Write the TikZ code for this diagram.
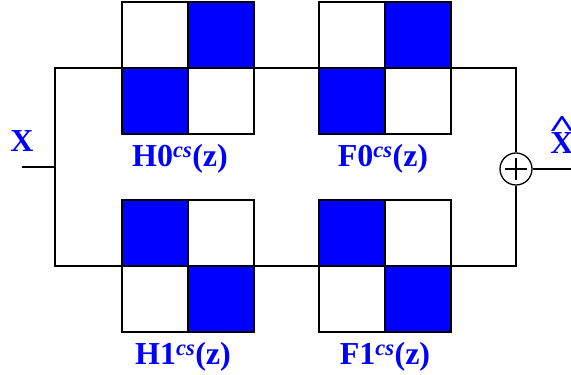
\documentclass[tikz,border=0pt]{standalone}
\usepackage{fontspec}
\setmainfont{Liberation Serif}
\usetikzlibrary{positioning}

\begin{document}
\begin{tikzpicture}[x=1pt, y=1pt,
        filt/.style={
            rectangle,
            minimum size=132pt,
            inner sep=0pt,
            outer sep=0pt,
            draw=black,
            line width=1.3pt
        },
        sig/.style={
            draw=black,
            line width=1.3pt
        },
        lbl/.style={
            text=blue,
            inner sep=0pt,
            font=\fontsize{32}{32}\selectfont\bfseries
        },
        sum/.style={
            circle,
            minimum size=32pt,
            inner sep=0pt,
            draw=black,
            line width=1.3pt
        }
    ]
        \useasboundingbox (0,0) rectangle (571,375);

        \node (H0) [filt] at (188,307) {};
        \node (F0) [filt, right=65pt of H0] {};
        \node (H1) [filt, below=66pt of H0] {};
        \node (F1) [filt, right=65pt of H1] {};

        % blue cells
        \foreach \b in {H0,F0} {
            \fill[blue] (\b.north east) rectangle (\b.center);
            \fill[blue] (\b.south west) rectangle (\b.center);
        }
        \foreach \b in {H1,F1} {
            \fill[blue] (\b.north west) rectangle (\b.center);
            \fill[blue] (\b.south east) rectangle (\b.center);
        }
        \foreach \b in {H0,F0,H1,F1} {
            \draw[sig] (\b.north west) rectangle (\b.south east);
            \draw[sig] (\b.north) -- (\b.south);
        }

        \coordinate (in) at (22,208);
        \coordinate (split) at (55,208);
        \node (add) [sum] at (516,206) {};
        \coordinate (out) at (571,206);

        \draw[sig] (in) -- (split);
        \draw[sig] (split) |- (H0.west) -- (F0.east) -| (add.north);
        \draw[sig] (split) |- (H1.west) -- (F1.east) -| (add.south);
        \draw[sig] (add.east) -- (out);
        \draw[sig] ([xshift=-11pt]add.center) -- ([xshift=11pt]add.center);
        \draw[sig] ([yshift=-11pt]add.center) -- ([yshift=11pt]add.center);

        \node (H0lbl) [lbl, below=10pt of H0, xshift=-8pt] {H0\textsuperscript{\itshape cs}(z)};
        \node (F0lbl) [lbl, below=10pt of F0, xshift=-2pt] {F0\textsuperscript{\itshape cs}(z)};
        \node (H1lbl) [lbl, below=10pt of H1, xshift=-5pt] {H1\textsuperscript{\itshape cs}(z)};
        \node (F1lbl) [lbl, below=10pt of F1] {F1\textsuperscript{\itshape cs}(z)};

        \node (xin) [lbl, above=15pt of in] {X};
        \node (xout) [lbl, above=15pt of out, xshift=-9pt]
            {\ooalign{X\cr\hidewidth\raisebox{0.5em}{\scalebox{1.5}[1]{\textasciicircum}}\hidewidth\cr}};
\end{tikzpicture}
\end{document}
